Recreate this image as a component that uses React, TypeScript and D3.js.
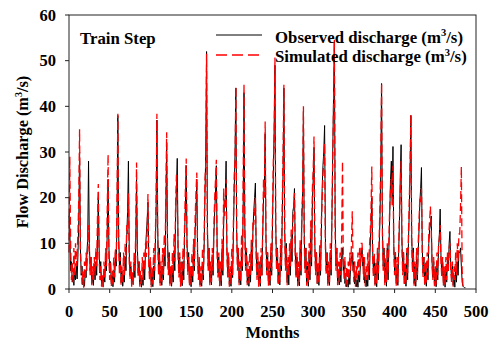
import React from "react";
import * as d3 from "d3";

const xTicks = [0, 50, 100, 150, 200, 250, 300, 350, 400, 450, 500];
const yTicks = [0, 10, 20, 30, 40, 50, 60];

const observed = [
  16, 13, 4, 6, 1.5, 3, 0.8, 4, 2, 5, 2.2, 7.5,
  15, 30, 9, 3, 5, 0.9, 2, 0.6, 4, 2.5, 8, 11,
  28, 10, 4, 7, 1.2, 3, 0.8, 5.5, 2, 6, 3, 10.5,
  20, 9, 3.5, 6, 1, 2.5, 0.5, 3, 1.5, 7, 4, 13,
  24, 9.5, 3.5, 6, 1.1, 3, 0.5, 4, 1.5, 8, 5, 15,
  38, 12, 5, 8, 1.4, 4, 0.6, 3, 1.5, 7, 4, 12,
  17, 28, 8, 3, 5, 0.9, 3, 1, 6, 2.5, 10, 24,
  9, 3.5, 6, 1, 3, 0.4, 2.5, 0.8, 5, 2, 9, 12,
  15, 19, 7, 3, 6, 0.9, 3, 0.5, 5, 2, 9, 17,
  37, 13, 5, 9, 1.3, 4, 0.8, 5, 2, 9, 5, 18,
  32, 11, 4.5, 8, 1.2, 4, 0.6, 4, 1.5, 8, 4, 16,
  22, 28.6, 9, 3.5, 7, 1, 3.5, 0.7, 6, 2, 12, 18,
  27, 10, 4, 8, 1, 3, 0.5, 5, 1.5, 9, 4, 13,
  17, 24, 8, 3, 6, 0.9, 3, 0.6, 5.5, 2, 9, 20,
  30, 52, 15, 5, 9, 1.4, 4, 0.9, 7, 3, 12, 17,
  21, 27, 9, 3.5, 7, 1, 3.5, 0.7, 8, 3, 14, 19,
  20, 28, 9, 3.5, 7, 1, 3, 0.6, 6, 2.5, 12, 22,
  30, 44, 13, 5, 9, 1.4, 4, 0.9, 9, 4, 18, 43,
  14, 5, 9, 1.4, 4, 0.6, 5, 1.5, 9, 4, 13, 17,
  20, 23.2, 8, 3, 6, 0.9, 4, 0.6, 7, 3, 12, 20,
  22, 34, 11, 4, 8, 1.2, 4, 0.8, 8, 3, 14, 25,
  35, 49, 14, 5, 9, 1.4, 4, 0.9, 9, 4, 16, 26,
  44, 13, 5, 10, 1.4, 5, 0.9, 7, 3, 11, 6, 17,
  18, 22, 8, 3, 7, 0.9, 4, 0.7, 9, 3, 14, 21,
  39, 12, 4.5, 9, 1.2, 5, 0.6, 8, 2, 13, 5, 19,
  24, 31, 10, 4, 8, 1.2, 4, 0.8, 8, 3, 12, 22,
  27, 30, 35.8, 11, 4, 8, 1.2, 4, 0.8, 8, 3, 15,
  30, 42, 54, 15, 5, 9, 1.4, 4, 0.9, 5, 1.5, 7,
  9, 4, 6, 1.2, 3, 0.5, 2, 0.4, 3.5, 1, 5, 6.5,
  8, 4, 6, 1.1, 3, 0.5, 2, 0.4, 4, 1.5, 5.5, 7,
  9, 5, 7, 1.3, 3, 0.5, 3, 0.6, 5, 2, 9, 14,
  20, 9, 3.5, 7, 1, 4, 0.5, 9, 2, 9, 15, 26,
  45, 14, 5, 9, 1.4, 5, 0.6, 9, 2, 9, 16, 24,
  28, 20, 31.2, 10, 4, 8, 1.2, 4, 0.8, 8, 15, 25,
  31.6, 11, 4, 8, 1.2, 5, 0.6, 8, 2, 10, 17, 26,
  38, 12, 4.5, 9, 1.2, 5, 0.6, 7, 2, 8, 13, 19,
  22, 26.6, 9, 3.5, 7, 1, 4, 0.6, 6, 2, 10, 13,
  14, 16, 6, 2.5, 6, 0.8, 4, 0.5, 5, 2, 9, 12,
  17.5, 7, 3, 6, 0.9, 4, 0.4, 5, 1.5, 7, 4, 10,
  12.6, 5, 2.2, 5, 0.8, 3, 0.4, 4.5, 1.5, 6, 3, 8,
  8, 9, 5, 1.5, 0.6, 0.4, 0.3, 0.3,
];

const simulated = [
  8, 29, 10, 2, 6, 1.5, 9, 3, 10, 5, 8, 12,
  20, 35, 8, 5, 1, 4, 0.3, 6, 2, 8, 4, 9,
  14, 8, 3, 7, 0.8, 5, 2, 7, 3, 9, 5, 16,
  23, 7, 2, 5, 0.5, 3, 0.4, 6, 2.5, 9, 5, 18,
  29.5, 7, 2, 6, 0.6, 4, 1, 7, 2.5, 9, 6, 20,
  38.4, 10, 3, 7, 0.8, 5, 1.5, 8, 3, 10, 7, 14,
  12, 21, 6, 2, 6, 0.5, 4, 1, 8, 4, 13, 27.7,
  7, 2.5, 6, 0.5, 4, 0.8, 7, 2, 8, 4, 10, 7,
  13, 20.8, 5, 2, 7, 0.4, 5, 1, 9, 4, 11, 20,
  38.4, 10, 3, 8, 0.7, 6, 1.5, 9, 3, 12, 7, 22,
  34.3, 9, 3, 7, 0.7, 5, 1.2, 8, 3, 12, 6, 19,
  25, 20, 7, 2.5, 8, 0.5, 6, 1.2, 9, 4, 14, 22,
  28.6, 8, 3, 7, 0.6, 5, 1, 8, 2.5, 11, 5, 16,
  21, 25.5, 6, 2, 7, 0.5, 5, 1, 9, 3, 11, 24,
  27, 51.5, 12, 4, 9, 0.8, 6, 1.5, 9, 4, 14, 20,
  24, 28.3, 7, 2.5, 8, 0.6, 6, 1.5, 11, 4, 22, 16,
  18, 24, 7, 2.5, 8, 0.5, 5, 1, 9, 3, 15, 25,
  28, 44.4, 11, 4, 9, 0.8, 6, 1.5, 12, 5, 25, 45,
  11, 4, 9, 0.8, 6, 1.2, 8, 3, 11, 5, 15, 14,
  17, 20, 6, 2, 8, 0.5, 6, 1.2, 9, 3, 14, 24,
  20, 36.7, 9, 3, 8, 0.7, 6, 1.5, 10, 4, 17, 28,
  32, 50.7, 12, 4, 9, 0.8, 6, 1.5, 11, 5, 19, 30,
  44.7, 11, 4, 9, 0.8, 7, 3, 10, 5, 13, 8, 15,
  17, 21, 6, 2.5, 8, 0.6, 6, 1.5, 11, 4, 17, 20.6,
  40, 10, 3.5, 9, 0.7, 6, 1.5, 10, 3, 15, 7, 22,
  26, 33.4, 8, 3, 8, 0.7, 6, 1.5, 10, 4, 15, 19,
  25, 28, 32, 9, 3, 8, 0.7, 6, 1.5, 10, 4, 17,
  28, 40, 54.6, 12, 4, 9, 0.8, 6, 1.5, 8, 3, 12,
  28, 6, 2, 7, 0.5, 5, 1, 6, 2, 8, 4, 10,
  17, 5, 1.5, 6, 0.5, 5, 2, 8, 3, 9, 5, 10,
  10, 6, 2, 7, 0.6, 5, 2, 8, 3, 9, 12, 17,
  26.8, 7, 2.5, 8, 0.6, 6, 1.2, 9, 3, 11, 18, 28,
  45.1, 12, 4, 9, 0.8, 7, 1.5, 10, 3.5, 11, 18, 22,
  24, 18, 27, 8, 3, 8, 0.7, 7, 1.5, 9, 16, 22,
  28, 9, 3, 8, 0.7, 6, 1.5, 9, 3.5, 12, 19, 27,
  38.2, 10, 3.5, 8, 0.7, 6, 1.5, 9, 3, 10, 15, 20,
  19, 22, 7, 2.5, 7, 0.6, 6, 1.2, 8, 3, 12, 15,
  18.1, 13, 5, 2, 7, 0.6, 5, 1, 8, 3, 10, 11,
  14, 6, 2.5, 7, 0.6, 5, 1, 7, 2, 8, 4, 9,
  10, 4, 1.5, 6, 0.5, 5, 2, 8, 3, 10, 6, 12,
  12, 18, 26.8, 4, 0.6, 0.3, 0.2, 0.2,
];

const W = 491;
const H = 342;
const left = 69;
const right = 476;
const top = 15;
const bottom = 289;
const FONT = "'Liberation Serif', 'Times New Roman', serif";

export default function App() {
  const x = d3.scaleLinear().domain([0, 500]).range([left, right]);
  const y = d3.scaleLinear().domain([0, 60]).range([bottom, top]);
  const line = d3
    .line<number>()
    .x((_, i) => x(i))
    .y((d) => y(d));

  return (
    <svg
      width={W}
      height={H}
      style={{ position: "absolute", left: 0, top: 0, background: "#fff" }}
      fontFamily={FONT}
      fontWeight="bold"
    >
      <rect x={0} y={0} width={W} height={H} fill="#fff" />
      <path d={line(observed) || ""} fill="none" stroke="#000" strokeWidth={1} />
      <path
        d={line(simulated) || ""}
        fill="none"
        stroke="#ff0000"
        strokeWidth={1.3}
        strokeDasharray="8,4"
      />
      <rect x={left} y={top} width={right - left} height={bottom - top} fill="none" stroke="#222" strokeWidth={1} />
      {yTicks.map((t) => (
        <g key={"y" + t}>
          <line x1={left - 4} x2={left} y1={y(t)} y2={y(t)} stroke="#222" />
          <text x={56} y={y(t)} dy="0.34em" textAnchor="end" fontSize={16.5}>
            {t}
          </text>
        </g>
      ))}
      {xTicks.map((t) => (
        <g key={"x" + t}>
          <line x1={x(t)} x2={x(t)} y1={bottom} y2={bottom + 4} stroke="#222" />
          <text x={x(t)} y={316.5} textAnchor="middle" fontSize={16.5}>
            {t}
          </text>
        </g>
      ))}
      <text x={(left + right) / 2} y={337.5} textAnchor="middle" fontSize={16.5}>
        Months
      </text>
      <text
        transform={`translate(28, ${(top + bottom) / 2}) rotate(-90)`}
        textAnchor="middle"
        fontSize={16.3}
      >
        Flow Discharge (m<tspan dy={-6} fontSize={10}>3</tspan>
        <tspan dy={6}>/s)</tspan>
      </text>
      <text x={80} y={43.5} fontSize={16.8}>
        Train Step
      </text>
      <line x1={216} x2={262} y1={35} y2={35} stroke="#000" strokeWidth={1} />
      <line x1={216} x2={262} y1={55} y2={55} stroke="#ff0000" strokeWidth={1.3} strokeDasharray="11,5" />
      <text x={275} y={42.5} fontSize={16.8}>
        Observed discharge (m<tspan dy={-6.5} fontSize={10.5}>3</tspan>
        <tspan dy={6.5}>/s)</tspan>
      </text>
      <text x={275} y={62} fontSize={16.8}>
        Simulated discharge (m<tspan dy={-6.5} fontSize={10.5}>3</tspan>
        <tspan dy={6.5}>/s)</tspan>
      </text>
    </svg>
  );
}
